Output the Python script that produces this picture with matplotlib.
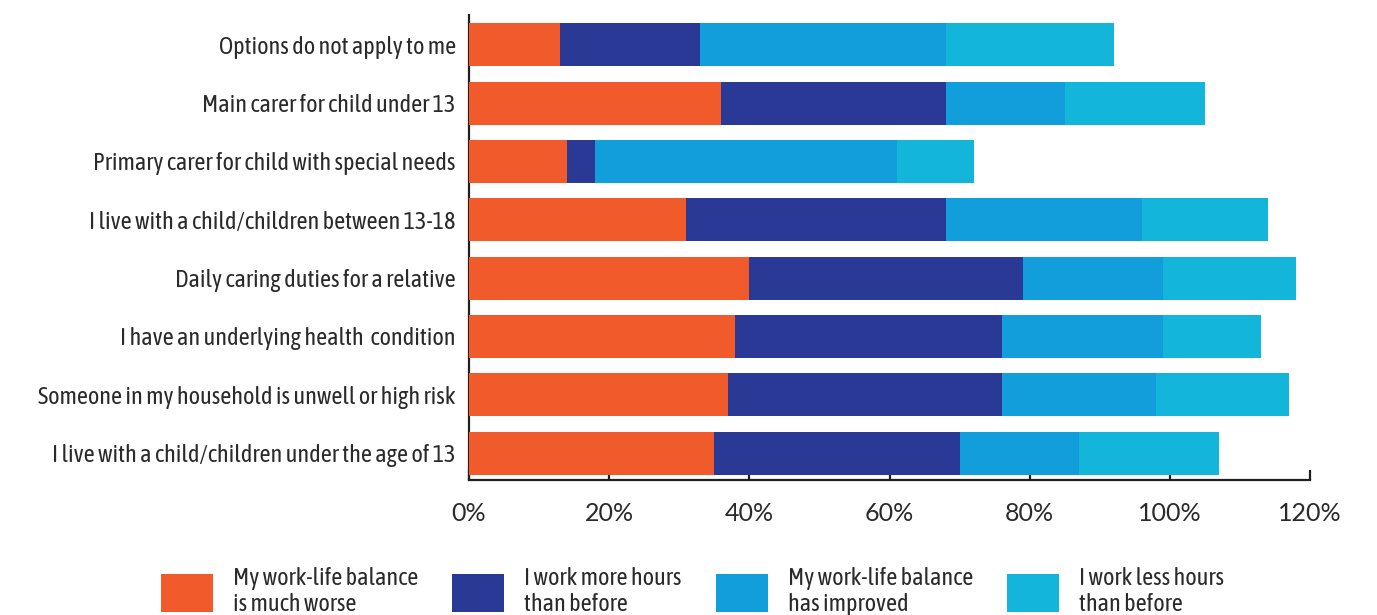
import matplotlib.pyplot as plt
from matplotlib.patches import Patch
from matplotlib.ticker import FuncFormatter

# Survey groups (top to bottom) and share of respondents per answer, in %
groups = [
    'Options do not apply to me',
    'Main carer for child under 13',
    'Primary carer for child with special needs',
    'I live with a child/children between 13-18',
    'Daily caring duties for a relative',
    'I have an underlying health  condition',
    'Someone in my household is unwell or high risk',
    'I live with a child/children under the age of 13',
]
much_worse = [13, 36, 14, 31, 40, 38, 37, 35]
more_hours = [20, 32, 4, 37, 39, 38, 39, 35]
improved = [35, 17, 43, 28, 20, 23, 22, 17]
less_hours = [24, 20, 11, 18, 19, 14, 19, 20]

series_labels = [
    'My work-life balance\nis much worse',
    'I work more hours\nthan before',
    'My work-life balance\nhas improved',
    'I work less hours\nthan before',
]
colors = ['#F15A2B', '#2B3996', '#129EDA', '#13B5DA']
text_color = '#2B2A2B'

label_font = ['Asap Condensed', 'Archivo Narrow', 'DejaVu Sans']

fig = plt.figure(figsize=(13.77, 6.15), dpi=100)
ax = fig.add_axes([469 / 1377, 1 - 480 / 615, (1310 - 469) / 1377, 465 / 615])

left = [0] * len(groups)
for vals, color in zip([much_worse, more_hours, improved, less_hours], colors):
    ax.barh(range(len(groups)), vals, left=left, height=0.74, color=color, zorder=3)
    left = [a + b for a, b in zip(left, vals)]

ax.set_xlim(0, 120)
ax.set_ylim(7.46, -0.51)
ax.set_xticks(range(0, 121, 20))
ax.xaxis.set_major_formatter(FuncFormatter(lambda v, _: f'{v:.0f}%'))
ax.set_yticks(range(len(groups)))
ax.set_yticklabels(groups, family=label_font, fontsize=17.5, color=text_color)

for side in ['top', 'right']:
    ax.spines[side].set_visible(False)
for side in ['left', 'bottom']:
    ax.spines[side].set_color('#231F20')
    ax.spines[side].set_linewidth(1.6)

ax.tick_params(axis='y', length=0, pad=9.5)
ax.tick_params(axis='x', direction='in', length=7, width=1.6, color='#231F20',
               pad=16, labelsize=18, labelcolor=text_color)
for lbl in ax.get_xticklabels():
    lbl.set_family('Lato')

handles = [Patch(facecolor=c, edgecolor='none') for c in colors]
fig.legend(handles, series_labels, loc='upper center', ncol=4,
           bbox_to_anchor=(0.503, 1 - 555 / 615), frameon=False,
           prop={'family': label_font, 'size': 17.5},
           handlelength=2.14, handleheight=2.0, handletextpad=0.82,
           columnspacing=1.4, borderpad=0, labelspacing=0)
for txt in fig.legends[0].get_texts():
    txt.set_color(text_color)
    txt.set_linespacing(1.15)

fig.savefig('out.png', dpi=100)
